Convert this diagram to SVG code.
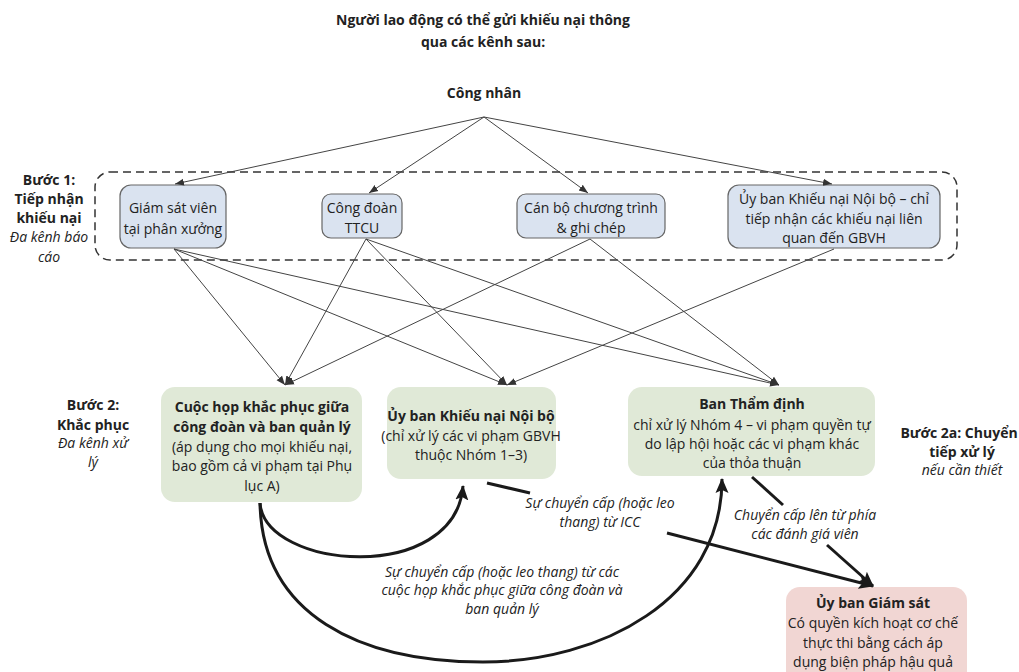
<svg xmlns="http://www.w3.org/2000/svg" width="1019" height="672" viewBox="0 0 1019 672">
<defs>
<style>
text{font-family:"Open Sans","Liberation Sans",sans-serif;fill:#222;text-anchor:middle}
.t{font-size:14px}
.b{font-size:14px;font-weight:bold}
.i{font-size:14px;font-style:italic}
.h{font-size:14px;font-weight:bold}
.blue{fill:#dae3f0;stroke:#666;stroke-width:1.2}
.green{fill:#e0e9d7}
.pink{fill:#f1d6d3}
.thin{fill:none;stroke:#444;stroke-width:1}
.thick{fill:none;stroke:#1a1a1a;stroke-width:3}
</style>
<marker id="ah" markerUnits="userSpaceOnUse" markerWidth="10" markerHeight="10" viewBox="0 0 10 10" refX="9" refY="5" orient="auto"><path d="M0,1.5 L9,5 L0,8.5 Z" fill="#333"/></marker>
<marker id="ahb" markerUnits="userSpaceOnUse" markerWidth="16" markerHeight="16" viewBox="0 0 16 16" refX="14" refY="8" orient="auto"><path d="M0,1.5 L15,8 L0,14.5 L3,8 Z" fill="#1a1a1a"/></marker>
</defs>
<rect width="1019" height="672" fill="#fff"/>

<g id="title">
<text class="h" x="483" y="25">Người lao động có thể gửi khiếu nại thông</text>
<text class="h" x="483" y="47">qua các kênh sau:</text>
</g>

<g id="cong-nhan"><text class="b" x="484" y="98">Công nhân</text></g>

<g id="step1-labels">
<text class="b" x="49" y="185">Bước 1:</text>
<text class="b" x="49" y="204">Tiếp nhận</text>
<text class="b" x="49" y="223">khiếu nại</text>
<text class="i" x="49" y="242">Đa kênh báo</text>
<text class="i" x="49" y="262">cáo</text>
</g>
<rect id="step1-frame" x="95" y="172" width="862" height="88" rx="15" fill="none" stroke="#333" stroke-width="1.5" stroke-dasharray="8,5"/>

<g id="giam-sat-vien">
<rect class="blue" x="120" y="185" width="106" height="63" rx="11"/>
<text class="t" x="173" y="213">Giám sát viên</text>
<text class="t" x="173" y="234">tại phân xưởng</text>
</g>
<g id="cong-doan">
<rect class="blue" x="322" y="194" width="80" height="44" rx="9"/>
<text class="t" x="362" y="213">Công đoàn</text>
<text class="t" x="362" y="233">TTCU</text>
</g>
<g id="can-bo">
<rect class="blue" x="517" y="194" width="148" height="44" rx="9"/>
<text class="t" x="591" y="213">Cán bộ chương trình</text>
<text class="t" x="591" y="233">&amp; ghi chép</text>
</g>
<g id="uy-ban-knnb-1">
<rect class="blue" x="728" y="185" width="212" height="63" rx="11"/>
<text class="t" x="834" y="204">Ủy ban Khiếu nại Nội bộ – chỉ</text>
<text class="t" x="834" y="224">tiếp nhận các khiếu nại liên</text>
<text class="t" x="834" y="243">quan đến GBVH</text>
</g>

<g id="step2-labels">
<text class="b" x="93" y="410">Bước 2:</text>
<text class="b" x="93" y="430">Khắc phục</text>
<text class="i" x="93" y="448">Đa kênh xử</text>
<text class="i" x="93" y="467">lý</text>
</g>

<g id="cuoc-hop">
<rect class="green" x="161" y="387" width="201" height="115" rx="14"/>
<text class="b" x="262" y="412">Cuộc họp khắc phục giữa</text>
<text class="b" x="262" y="432">công đoàn và ban quản lý</text>
<text class="t" x="262" y="452">(áp dụng cho mọi khiếu nại,</text>
<text class="t" x="262" y="471">bao gồm cả vi phạm tại Phụ</text>
<text class="t" x="262" y="491">lục A)</text>
</g>
<g id="uy-ban-knnb-2">
<rect class="green" x="387" y="387" width="169" height="92" rx="14"/>
<text class="b" x="471" y="421">Ủy ban Khiếu nại Nội bộ</text>
<text class="t" x="471" y="441">(chỉ xử lý các vi phạm GBVH</text>
<text class="t" x="471" y="460">thuộc Nhóm 1–3)</text>
</g>
<g id="ban-tham-dinh">
<rect class="green" x="628" y="387" width="247" height="89" rx="14"/>
<text class="b" x="752" y="409">Ban Thẩm định</text>
<text class="t" x="752" y="430">chỉ xử lý Nhóm 4 – vi phạm quyền tự</text>
<text class="t" x="752" y="449">do lập hội hoặc các vi phạm khác</text>
<text class="t" x="752" y="468">của thỏa thuận</text>
</g>

<g id="step2a-labels">
<text class="b" x="959" y="438">Bước 2a: Chuyển</text>
<text class="b" x="962" y="457">tiếp xử lý</text>
<text class="i" x="962" y="475">nếu cần thiết</text>
</g>

<g id="uy-ban-giam-sat">
<rect class="pink" x="786" y="587" width="181" height="100" rx="14"/>
<text class="b" x="873" y="608">Ủy ban Giám sát</text>
<text class="t" x="873" y="628">Có quyền kích hoạt cơ chế</text>
<text class="t" x="873" y="648">thực thi bằng cách áp</text>
<text class="t" x="873" y="667">dụng biện pháp hậu quả</text>
</g>

<g id="connectors">
<path class="thin" marker-end="url(#ah)" d="M484,117 L175,184"/>
<path class="thin" marker-end="url(#ah)" d="M484,117 L369,193"/>
<path class="thin" marker-end="url(#ah)" d="M484,117 L588,193"/>
<path class="thin" marker-end="url(#ah)" d="M484,117 L832,184"/>

<path class="thin" marker-end="url(#ah)" d="M174,249 L285,385"/>
<path class="thin" marker-end="url(#ah)" d="M174,249 L507,385"/>
<path class="thin" marker-end="url(#ah)" d="M174,249 L779,385"/>
<path class="thin" marker-end="url(#ah)" d="M366,239 L285,385"/>
<path class="thin" marker-end="url(#ah)" d="M366,239 L507,385"/>
<path class="thin" marker-end="url(#ah)" d="M366,239 L779,385"/>
<path class="thin" marker-end="url(#ah)" d="M590,239 L285,385"/>
<path class="thin" marker-end="url(#ah)" d="M590,239 L779,385"/>
<path class="thin" marker-end="url(#ah)" d="M834,249 L507,385"/>

<path class="thick" marker-end="url(#ahb)" d="M260,503 C265,570 455,585 463,486"/>
<path class="thick" marker-end="url(#ahb)" d="M260,503 C262,615 360,662 483,662 C600,662 722,600 722,479"/>
<path class="thick" d="M487,483 L530,493"/>
<path class="thick" marker-end="url(#ahb)" d="M667,533 L873,586"/>
<path class="thick" d="M752,477 L783,505"/>
<path class="thick" marker-end="url(#ahb)" d="M827,545 L873,586"/>

<text class="i" x="600" y="508">Sự chuyển cấp (hoặc leo</text>
<text class="i" x="600" y="527">thang) từ ICC</text>
<text class="i" x="805" y="520">Chuyển cấp lên từ phía</text>
<text class="i" x="805" y="539">các đánh giá viên</text>
<text class="i" x="502" y="577">Sự chuyển cấp (hoặc leo thang) từ các</text>
<text class="i" x="502" y="595">cuộc họp khắc phục giữa công đoàn và</text>
<text class="i" x="502" y="614">ban quản lý</text>
</g>
</svg>
